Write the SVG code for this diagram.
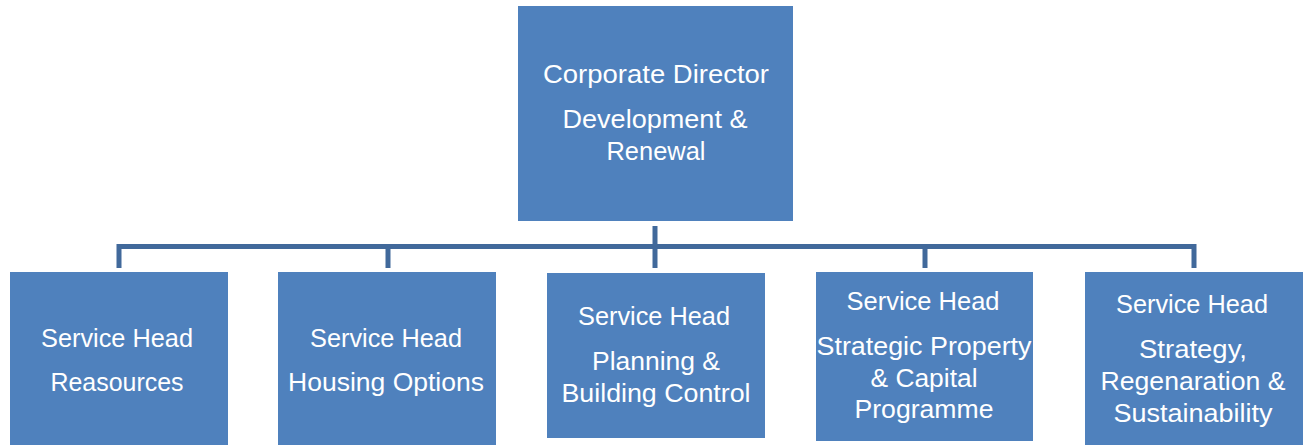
<svg xmlns="http://www.w3.org/2000/svg" width="1308" height="445" viewBox="0 0 1308 445">
  <style>
    .box { fill: #4F81BD; }
    .link { fill: none; stroke: #41699B; stroke-width: 5; stroke-linejoin: miter; }
    .lbl { fill: #ffffff; font-family: "Liberation Sans", Arial, sans-serif; font-size: 25px; text-anchor: middle; }
  </style>
  <rect width="1308" height="445" fill="#ffffff"/>

  <!-- reporting lines -->
  <g id="connectors">
    <path class="link" d="M655 226 V246.5"/>
    <path class="link" d="M119 268 V246.5 H1194 V268"/>
    <path class="link" d="M388 246.5 V268"/>
    <path class="link" d="M655 246.5 V268"/>
    <path class="link" d="M925 246.5 V268"/>
  </g>

  <g id="director">
    <rect class="box" x="518" y="6" width="275" height="215"/>
    <text class="lbl" x="656" y="83" textLength="226" lengthAdjust="spacingAndGlyphs">Corporate Director</text>
    <text class="lbl" x="655" y="128" textLength="185" lengthAdjust="spacingAndGlyphs">Development &amp;</text>
    <text class="lbl" x="656" y="160" textLength="99" lengthAdjust="spacingAndGlyphs">Renewal</text>
  </g>

  <g id="resources">
    <rect class="box" x="10" y="272" width="218" height="173"/>
    <text class="lbl" x="117" y="347" textLength="152" lengthAdjust="spacingAndGlyphs">Service Head</text>
    <text class="lbl" x="117" y="391" textLength="133" lengthAdjust="spacingAndGlyphs">Reasources</text>
  </g>

  <g id="housing">
    <rect class="box" x="278" y="272" width="218" height="173"/>
    <text class="lbl" x="386" y="347" textLength="152" lengthAdjust="spacingAndGlyphs">Service Head</text>
    <text class="lbl" x="386" y="391" textLength="196" lengthAdjust="spacingAndGlyphs">Housing Options</text>
  </g>

  <g id="planning">
    <rect class="box" x="547" y="273" width="218" height="165"/>
    <text class="lbl" x="654" y="325" textLength="152" lengthAdjust="spacingAndGlyphs">Service Head</text>
    <text class="lbl" x="656" y="370" textLength="128" lengthAdjust="spacingAndGlyphs">Planning &amp;</text>
    <text class="lbl" x="656" y="402" textLength="189" lengthAdjust="spacingAndGlyphs">Building Control</text>
  </g>

  <g id="property">
    <rect class="box" x="816" y="272" width="217" height="169"/>
    <text class="lbl" x="923" y="310" textLength="153" lengthAdjust="spacingAndGlyphs">Service Head</text>
    <text class="lbl" x="924" y="355" textLength="215" lengthAdjust="spacingAndGlyphs">Strategic Property</text>
    <text class="lbl" x="924" y="387" textLength="107" lengthAdjust="spacingAndGlyphs">&amp; Capital</text>
    <text class="lbl" x="924" y="418" textLength="139" lengthAdjust="spacingAndGlyphs">Programme</text>
  </g>

  <g id="strategy">
    <rect class="box" x="1085" y="272" width="218" height="173"/>
    <text class="lbl" x="1192" y="313" textLength="152" lengthAdjust="spacingAndGlyphs">Service Head</text>
    <text class="lbl" x="1193" y="358" textLength="108" lengthAdjust="spacingAndGlyphs">Strategy,</text>
    <text class="lbl" x="1193" y="390" textLength="185" lengthAdjust="spacingAndGlyphs">Regenaration &amp;</text>
    <text class="lbl" x="1193" y="422" textLength="159" lengthAdjust="spacingAndGlyphs">Sustainability</text>
  </g>
</svg>
